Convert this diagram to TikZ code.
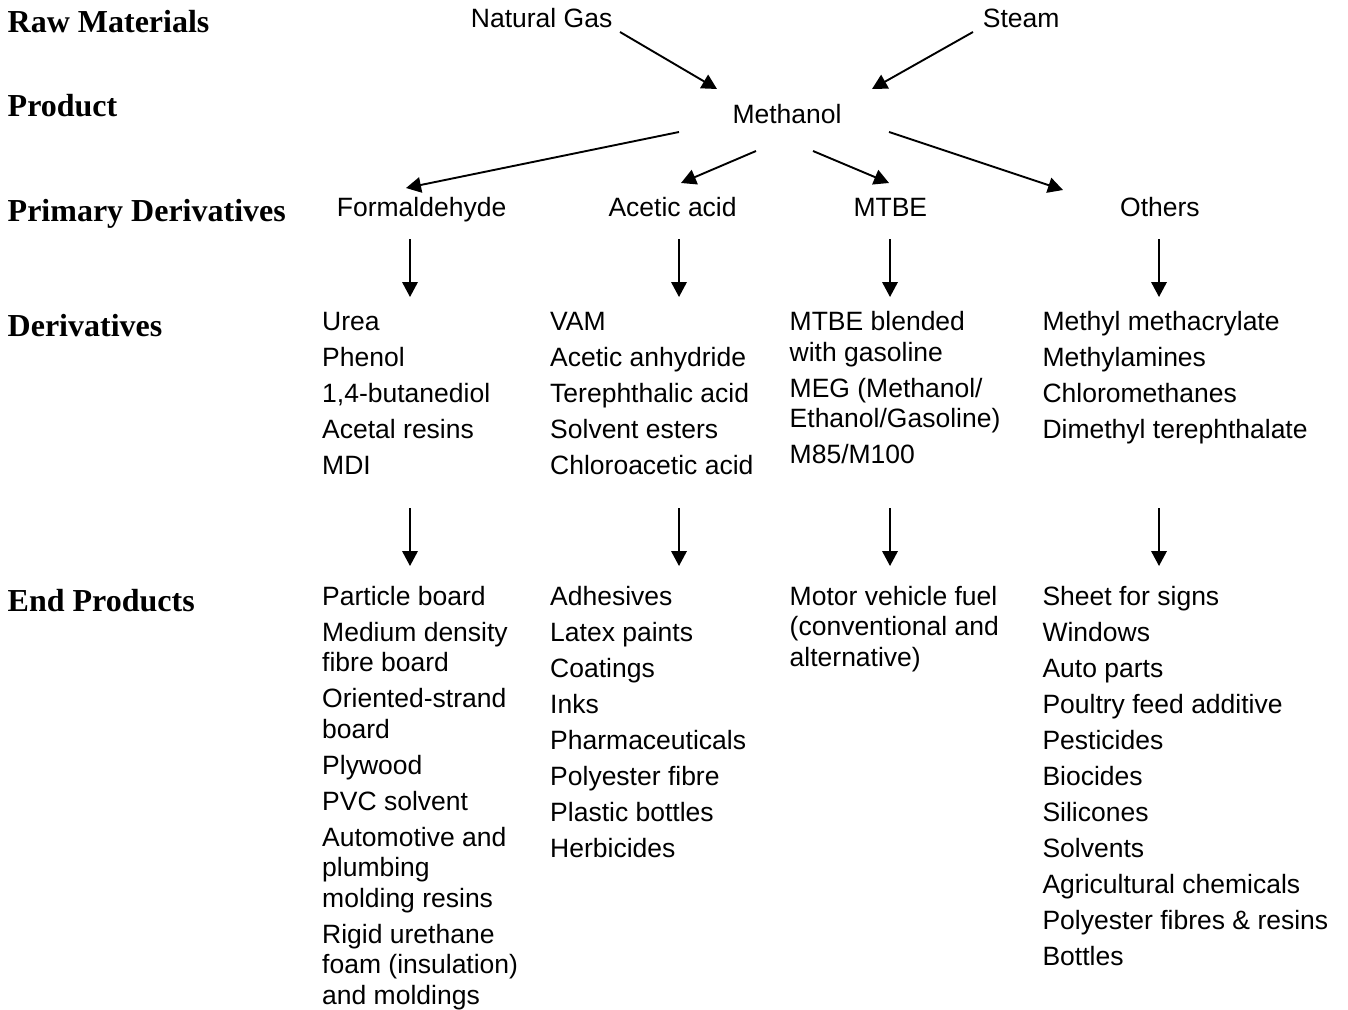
\documentclass[tikz,border=0pt]{standalone}
\usepackage{fontspec}
\setmainfont{Liberation Sans}
\newfontfamily\timesfont{Liberation Serif}
\usetikzlibrary{arrows.meta}
\newcommand\nx{\\[5.5pt]}
\begin{document}
\begin{tikzpicture}[x=1pt,y=-1pt,
  lab/.style={anchor=base west, inner sep=0pt, font=\timesfont\bfseries\fontsize{32}{36}\selectfont},
  hd/.style={anchor=base west, inner sep=0pt, font=\fontsize{26.5}{30.5}\selectfont},
  lst/.style={anchor=north west, inner sep=0pt, align=left, font=\fontsize{26.5}{30.5}\selectfont},
  arr/.style={-{Triangle[length=15pt,width=15.5pt]}, line width=1.9pt}]
\useasboundingbox (0,0) rectangle (1348,1009);

% left labels
\node[lab] (lraw)  at (7.5,32.7) {Raw Materials};
\node[lab] (lprod) at (7.5,116) {Product};
\node[lab] (lprim) at (7.5,221.5) {Primary Derivatives};
\node[lab] (lder)  at (7.5,336) {Derivatives};
\node[lab] (lend)  at (7.5,611) {End Products};

% headers
\node[hd] (ng)   at (470.7,27.3) {Natural Gas};
\node[hd] (st)   at (982.7,27.3) {Steam};
\node[hd] (meth) at (732.3,123.3) {Methanol};
\node[hd] (form) at (336.7,216.7) {Formaldehyde};
\node[hd] (acet) at (608.3,216.7) {Acetic acid};
\node[hd] (mtbe) at (853.3,216.7) {MTBE};
\node[hd] (oth)  at (1120,216.7) {Others};

% derivatives
\node[lst] (dform) at (322,309.15) {\strut Urea\nx Phenol\nx 1,4-butanediol\nx Acetal resins\nx MDI};
\node[lst] (dacet) at (550,309.15) {\strut VAM\nx Acetic anhydride\nx Terephthalic acid\nx Solvent esters\nx Chloroacetic acid};
\node[lst] (dmtbe) at (789.5,309.15) {\strut MTBE blended\\with gasoline\nx MEG (Methanol/\\Ethanol/Gasoline)\nx M85/M100};
\node[lst] (doth)  at (1042.3,309.15) {\strut Methyl methacrylate\nx Methylamines\nx Chloromethanes\nx Dimethyl terephthalate};

% end products
\node[lst] (eform) at (322,583.65) {\strut Particle board\nx Medium density\\fibre board\nx Oriented-strand\\board\nx Plywood\nx PVC solvent\nx Automotive and\\plumbing\\molding resins\nx Rigid urethane\\foam (insulation)\\and moldings};
\node[lst] (eacet) at (550,583.65) {\strut Adhesives\nx Latex paints\nx Coatings\nx Inks\nx Pharmaceuticals\nx Polyester fibre\nx Plastic bottles\nx Herbicides};
\node[lst] (emtbe) at (789.5,583.65) {\strut Motor vehicle fuel\\(conventional and\\alternative)};
\node[lst] (eoth)  at (1042.3,583.65) {\strut Sheet for signs\nx Windows\nx Auto parts\nx Poultry feed additive\nx Pesticides\nx Biocides\nx Silicones\nx Solvents\nx Agricultural chemicals\nx Polyester fibres \& resins\nx Bottles};

% connector end points
\coordinate (ng-o)   at (620,32);
\coordinate (st-o)   at (973,32);
\coordinate (meth-i1) at (717,89);
\coordinate (meth-i2) at (872,89);
\coordinate (meth-o1) at (679,132);
\coordinate (meth-o2) at (756,151);
\coordinate (meth-o3) at (813,151);
\coordinate (meth-o4) at (889,132);
\coordinate (form-i) at (406,188);
\coordinate (acet-i) at (681,183);
\coordinate (mtbe-i) at (889,183);
\coordinate (oth-i)  at (1063,190);

\coordinate (form-o) at (410,239);
\coordinate (acet-o) at (679,239);
\coordinate (mtbe-o) at (890,239);
\coordinate (oth-o)  at (1159,239);
\coordinate (dform-i) at (410,297);
\coordinate (dacet-i) at (679,297);
\coordinate (dmtbe-i) at (890,297);
\coordinate (doth-i)  at (1159,297);

\coordinate (dform-o) at (410,508);
\coordinate (dacet-o) at (679,508);
\coordinate (dmtbe-o) at (890,508);
\coordinate (doth-o)  at (1159,508);
\coordinate (eform-i) at (410,566);
\coordinate (eacet-i) at (679,566);
\coordinate (emtbe-i) at (890,566);
\coordinate (eoth-i)  at (1159,566);

% connectors
\draw[arr] (ng-o) -- (meth-i1);
\draw[arr] (st-o) -- (meth-i2);
\draw[arr] (meth-o1) -- (form-i);
\draw[arr] (meth-o2) -- (acet-i);
\draw[arr] (meth-o3) -- (mtbe-i);
\draw[arr] (meth-o4) -- (oth-i);

\draw[arr] (form-o) -- (dform-i);
\draw[arr] (acet-o) -- (dacet-i);
\draw[arr] (mtbe-o) -- (dmtbe-i);
\draw[arr] (oth-o) -- (doth-i);

\draw[arr] (dform-o) -- (eform-i);
\draw[arr] (dacet-o) -- (eacet-i);
\draw[arr] (dmtbe-o) -- (emtbe-i);
\draw[arr] (doth-o) -- (eoth-i);
\end{tikzpicture}
\end{document}
